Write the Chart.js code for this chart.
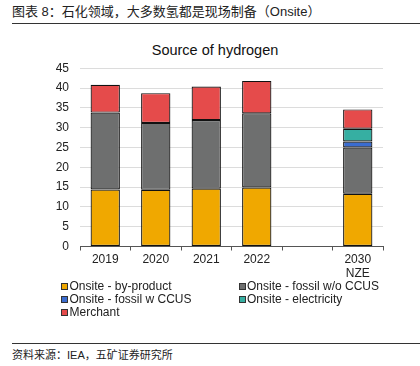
<!DOCTYPE html>
<html><head><meta charset="utf-8">
<script src="https://cdn.jsdelivr.net/npm/chart.js@4"></script>
<style>
body{margin:0;width:420px;height:366px;background:#fff;position:relative;overflow:hidden;font-family:"Liberation Sans",Arial,sans-serif;color:#222;}
#hdr{position:absolute;left:12px;top:3px;font-size:13px;line-height:18px;white-space:nowrap;font-family:"Liberation Sans","Noto Sans CJK SC",sans-serif;color:#222;}
#hline{position:absolute;left:12px;right:0;top:23px;height:0;border-top:1.5px solid #333;}
#ctitle{position:absolute;left:0;width:430px;text-align:center;top:41px;font-size:14.5px;line-height:18px;color:#111;}
#wrap{position:absolute;left:0;top:50px;width:400px;height:240px;}
#legend{position:absolute;left:61px;top:279.5px;display:grid;grid-template-columns:177.5px 177px;font-size:12px;line-height:13.3px;}
#legend .it{display:flex;align-items:center;white-space:nowrap;}
#legend .bx{width:5px;height:5px;border:1px solid #333;margin-right:1.5px;}
#fline{position:absolute;left:12px;right:0;top:343px;height:0;border-top:1px solid #333;}
#src{position:absolute;left:12px;top:347px;font-size:11px;line-height:16px;white-space:nowrap;font-family:"Liberation Sans","Noto Sans CJK SC",sans-serif;color:#222;}
</style></head>
<body>
<div id="hdr">图表 8：石化领域，大多数氢都是现场制备（Onsite）</div>
<div id="hline"></div>
<div id="ctitle">Source of hydrogen</div>
<div id="wrap"><canvas id="c"></canvas></div>
<div id="legend"></div>
<div id="fline"></div>
<div id="src">资料来源：IEA，五矿证券研究所</div>
<script>
const categories = ['2019', '2020', '2021', '2022', '', ['2030', 'NZE']];
const seriesNames = ['Onsite - by-product', 'Onsite - fossil w/o CCUS', 'Onsite - fossil w CCUS', 'Onsite - electricity', 'Merchant'];
const seriesColors = ['#F0A800', '#6E6F6F', '#3A6CCF', '#36AFA2', '#E54B4B'];
const onsiteByProduct = [14.4, 14.3, 14.6, 14.9, null, 13.3];
const onsiteFossilNoCCUS = [19.4, 16.9, 17.3, 18.7, null, 11.7];
const onsiteFossilCCUS = [null, null, null, null, null, 1.5];
const onsiteElectricity = [null, null, null, null, null, 3.2];
const merchant = [7.0, 7.5, 8.5, 8.2, null, 4.9];
const yTicks = [0, 5, 10, 15, 20, 25, 30, 35, 40, 45];

const seriesData = [onsiteByProduct, onsiteFossilNoCCUS, onsiteFossilCCUS, onsiteElectricity, merchant];
const datasets = seriesData.map((d, i) => ({
  label: seriesNames[i],
  data: d,
  backgroundColor: seriesColors[i],
  borderColor: '#111',
  borderWidth: 1.2,
  borderSkipped: false,
  categoryPercentage: 1,
  barPercentage: 0.58
}));

const lg = document.getElementById('legend');
seriesNames.forEach((n, i) => {
  const it = document.createElement('div'); it.className = 'it';
  const b = document.createElement('span'); b.className = 'bx'; b.style.background = seriesColors[i];
  const t = document.createElement('span'); t.textContent = n;
  it.appendChild(b); it.appendChild(t); lg.appendChild(it);
});

new Chart(document.getElementById('c'), {
  type: 'bar',
  data: { labels: categories, datasets },
  options: {
    responsive: true, maintainAspectRatio: false, animation: false,
    layout: { padding: { top: 4, right: 17, left: 0, bottom: 0 } },
    plugins: { legend: { display: false }, title: { display: false }, tooltip: { enabled: false } },
    scales: {
      x: {
        stacked: true,
        afterFit: s => { s.height = 43.5; },
        border: { display: true, color: '#555', width: 1 },
        grid: { offset: true, drawOnChartArea: false, drawTicks: true, tickLength: 4, color: '#555' },
        ticks: { padding: 2, autoSkip: false, maxRotation: 0, color: '#222', font: { family: 'Liberation Sans', size: 12 } }
      },
      y: {
        stacked: true, min: 0, max: 45,
        afterFit: s => { s.width = 80; },
        afterBuildTicks: s => { s.ticks = yTicks.map(v => ({ value: v })); },
        border: { display: false },
        grid: { color: '#dcdcdc', drawTicks: false },
        ticks: { padding: 11, color: '#222', font: { family: 'Liberation Sans', size: 12 } }
      }
    }
  }
});
</script>
</body></html>
